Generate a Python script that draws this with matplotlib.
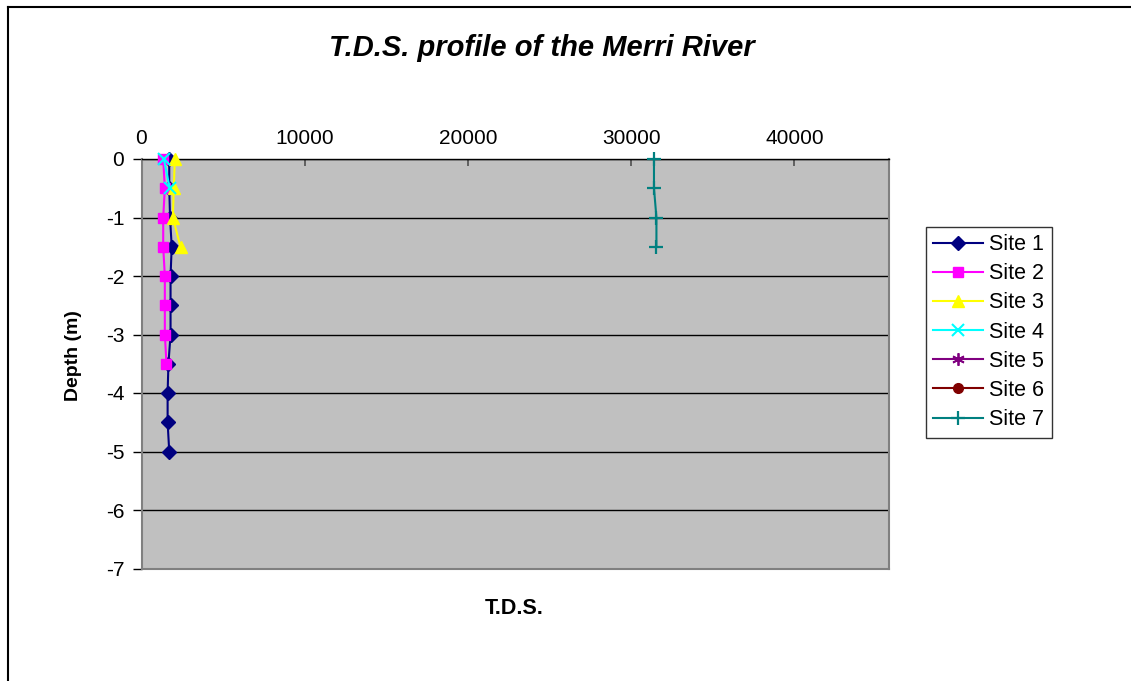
import matplotlib
matplotlib.use("Agg")
import matplotlib.pyplot as plt
from matplotlib.lines import Line2D

plt.rcParams['font.family'] = ['Liberation Sans', 'DejaVu Sans']

# ---- data ----
site1_tds = [1700, 1700, 1750, 1850, 1780, 1780, 1780, 1650, 1600, 1600, 1700]
site1_depth = [0, -0.5, -1, -1.5, -2, -2.5, -3, -3.5, -4, -4.5, -5]
site2_tds = [1330, 1430, 1330, 1330, 1430, 1430, 1430, 1530]
site2_depth = [0, -0.5, -1, -1.5, -2, -2.5, -3, -3.5]
site3_tds = [2040, 1980, 1920, 2390]
site3_depth = [0, -0.5, -1, -1.5]
site4_tds = [1370, 1730]
site4_depth = [0, -0.5]
site5_tds = []
site5_depth = []
site6_tds = []
site6_depth = []
site7_tds = [31400, 31400, 31550, 31550]
site7_depth = [0, -0.5, -1, -1.5]

series_labels = ["Site 1", "Site 2", "Site 3", "Site 4", "Site 5", "Site 6", "Site 7"]
x_ticks = [0, 10000, 20000, 30000, 40000]
y_ticks = [0, -1, -2, -3, -4, -5, -6, -7]

W, H = 1131, 681
fig = plt.figure(figsize=(W / 100, H / 100), dpi=100)
ax = fig.add_axes([141.5 / W, (H - 568.5) / H, (889 - 141.5) / W, 409.5 / H])
ax.set_facecolor('#C0C0C0')

styles = [
    dict(color='#000080', marker='D', markersize=7),
    dict(color='#FF00FF', marker='s', markersize=7.5),
    dict(color='#FFFF00', marker='^', markersize=9),
    dict(color='#00FFFF', marker='x', markersize=8, markeredgewidth=1.5),
    dict(color='#800080', marker=(6, 2, 0), markersize=9, markeredgewidth=1.3),
    dict(color='#800000', marker='o', markersize=7),
    dict(color='#008080', marker='+', markersize=10, markeredgewidth=1.6),
]
data = [(site1_tds, site1_depth), (site2_tds, site2_depth), (site3_tds, site3_depth),
        (site4_tds, site4_depth), (site5_tds, site5_depth), (site6_tds, site6_depth),
        (site7_tds, site7_depth)]
for (xs, ys), lab, st in zip(data, series_labels, styles):
    ax.plot(xs, ys, label=lab, linewidth=1.5, zorder=3, clip_on=False, **st)

ax.set_xlim(0, 45800)
ax.set_ylim(-7, 0)
ax.set_xticks(x_ticks)
ax.set_xticklabels([str(v) for v in x_ticks])
ax.set_yticks(y_ticks)
ax.set_yticklabels([str(v) for v in y_ticks])
ax.xaxis.tick_top()
ax.tick_params(axis='x', direction='in', length=5, width=1.2, color='#505050',
               labelsize=15, pad=8)
ax.tick_params(axis='y', direction='out', length=6.5, width=1, color='black',
               labelsize=15, pad=6)
ax.yaxis.grid(True, color='black', linewidth=1)
ax.set_axisbelow(True)
for s in ['left', 'right', 'bottom', 'top']:
    ax.spines[s].set_color('#808080')
    ax.spines[s].set_linewidth(1.5)
ax.spines['top'].set_color('black')
ax.spines['top'].set_linewidth(1)

fig.text(542 / W, 1 - 48 / H, "T.D.S. profile of the Merri River", ha='center', va='center',
         fontsize=21, fontweight='bold', fontstyle='italic')
fig.text(514 / W, 1 - 609 / H, "T.D.S.", ha='center', va='center', fontsize=15.5,
         fontweight='bold')
fig.text(74 / W, 1 - 356 / H, "Depth (m)", ha='center', va='center', fontsize=14,
         fontweight='bold', rotation=90)

leg = fig.legend(loc='upper left', bbox_to_anchor=(925.5 / W, 1 - 226.5 / H),
                 borderaxespad=0, frameon=True, fancybox=False, fontsize=15.5,
                 handlelength=2.3, labelspacing=0.38, handletextpad=0.3,
                 borderpad=0.35)
leg.get_frame().set_edgecolor('black')
leg.get_frame().set_linewidth(1)

fig.add_artist(Line2D([7.5 / W, 7.5 / W], [0, 1 - 6.5 / H], color='black', linewidth=1.5))
fig.add_artist(Line2D([7.5 / W, 1], [1 - 6.5 / H, 1 - 6.5 / H], color='black', linewidth=1.5))

fig.savefig("out.png", dpi=100)
